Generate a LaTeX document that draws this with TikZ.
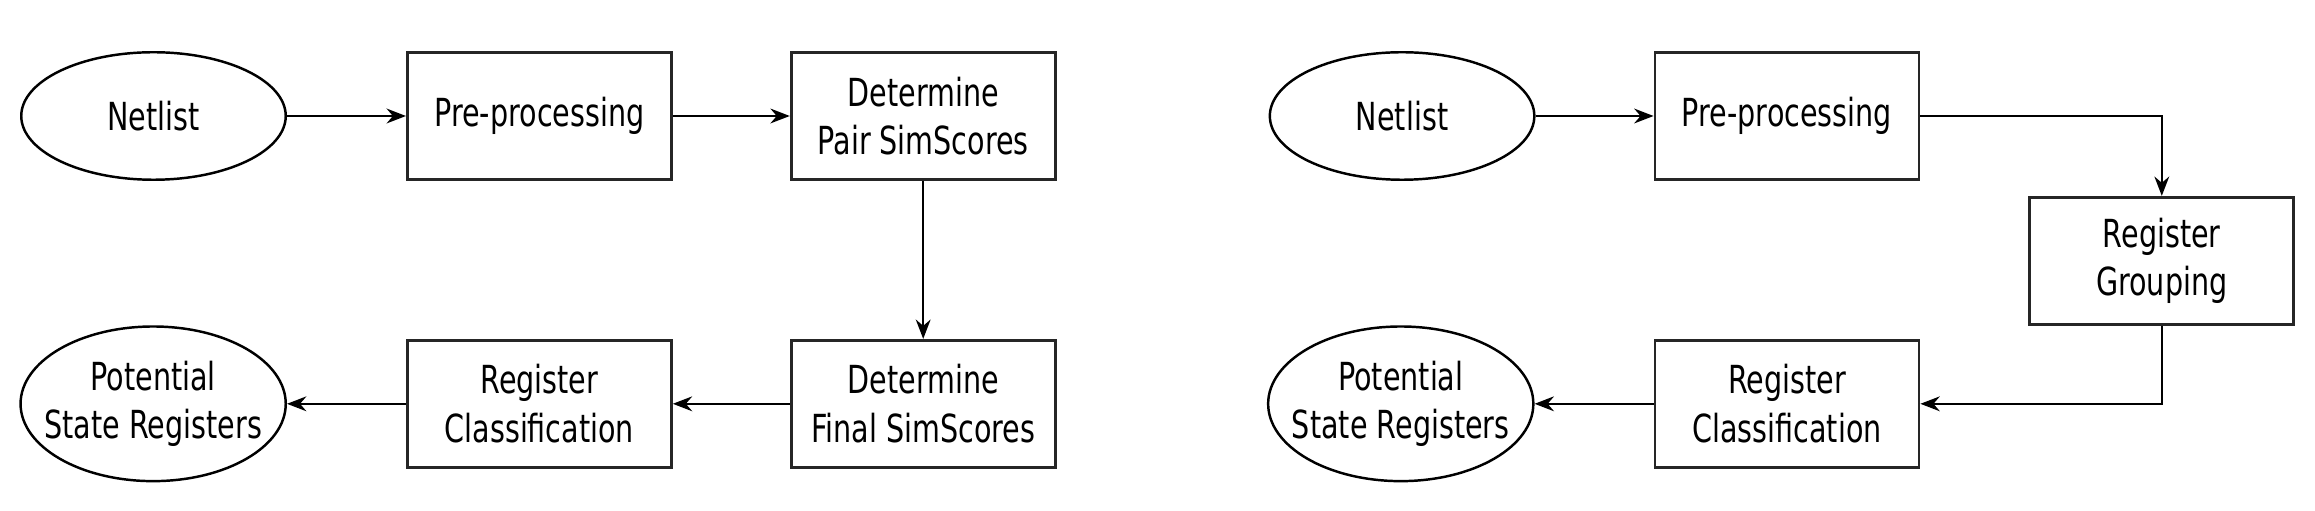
\documentclass[tikz,border=0pt]{standalone}
\usepackage{fontspec}
\newfontfamily\flowfont{DejaVu Sans}[FakeStretch=0.74]
\usetikzlibrary{positioning,shapes.geometric,arrows.meta}

\begin{document}
\begin{tikzpicture}[
        process/.style={
                rectangle,
                draw=black!85,
                line width=0.8pt,
                align=center,
                minimum width=2.64cm,
                minimum height=1.27cm
            },
        terminal/.style={
                ellipse,
                draw=black,
                line width=0.7pt,
                align=center,
                inner xsep=-0.15cm,
                minimum width=2.645cm,
                minimum height=1.275cm
            },
        every node/.style={font=\flowfont\fontsize{11pt}{13.8pt}\selectfont},
        >={Stealth[length=5.5pt,width=4.2pt]},
        line width=0.7pt
    ]
    \useasboundingbox (0,0) rectangle (23.15,5.11);

    % similarity-score flow
    \node[terminal] (netlist)   at (1.535,3.95)                {Netlist};
    \node[process]  (preproc)   [right=1.19cm of netlist]      {Pre-processing};
    \node[process]  (pairsim)   [right=1.17cm of preproc]      {Determine\\Pair SimScores};
    \node[process]  (finalsim)  [below=1.58cm of pairsim]      {Determine\\Final SimScores};
    \node[process]  (classify)  [left=1.17cm of finalsim]      {Register\\Classification};
    \node[terminal] (potential) [left=1.19cm of classify]      {Potential\\State Registers};

    % grouping flow
    \node[terminal] (netlistB)   [right=2.12cm of pairsim]     {Netlist};
    \node[process]  (preprocB)   [right=1.18cm of netlistB]    {Pre-processing};
    \node[process]  (grouping)   [below right=0.15cm and 1.08cm of preprocB] {Register\\Grouping};
    \node[process]  (classifyB)  [below=1.58cm of preprocB]    {Register\\Classification};
    \node[terminal] (potentialB) [left=1.19cm of classifyB]    {Potential\\State Registers};

    \draw[->] (netlist) -- (preproc);
    \draw[->] (preproc) -- (pairsim);
    \draw[->] (pairsim) -- (finalsim);
    \draw[->] (finalsim) -- (classify);
    \draw[->] (classify) -- (potential);

    \draw[->] (netlistB) -- (preprocB);
    \draw[->] (preprocB) -| (grouping);
    \draw[->] (grouping) |- (classifyB);
    \draw[->] (classifyB) -- (potentialB);
\end{tikzpicture}
\end{document}
